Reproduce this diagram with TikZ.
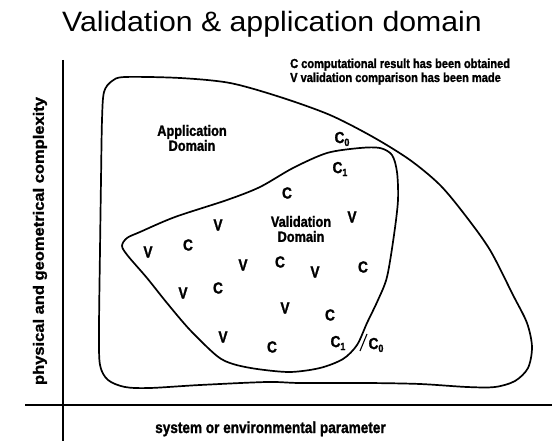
\documentclass[tikz,border=0pt]{standalone}
\usepackage{fontspec}
\setmainfont{Liberation Sans}
\newfontfamily\titlefont[FakeStretch=1.08]{Liberation Sans}
\newfontfamily\labfont[FakeStretch=0.85, BoldFeatures={FakeBold=1.4}]{Liberation Sans}
\newfontfamily\ylabfont[FakeStretch=1.1, BoldFeatures={FakeBold=1.4}]{Liberation Sans}
\newcommand\lowidx[1]{\raisebox{-0.35ex}{\fontsize{10.5}{10.5}\selectfont #1}}
\tikzset{
  domain line/.style={line width=1.7pt, line join=round},
  axis line/.style={line width=1.5pt},
  mark letter/.style={font=\labfont\bfseries\fontsize{16}{16}\selectfont, inner sep=0pt},
  region label/.style={font=\labfont\bfseries\fontsize{15}{15}\selectfont, inner sep=0pt, align=center},
  legend text/.style={font=\labfont\bfseries\fontsize{13}{13}\selectfont, inner sep=0pt, anchor=base west},
}
\begin{document}
\begin{tikzpicture}[x=1pt, y=-1pt]
  \fill[white] (0,0) rectangle (552,441);
  \useasboundingbox (0,0) rectangle (552,441);

  % title
  \node[font=\titlefont\fontsize{28}{28}\selectfont, anchor=base, inner sep=0pt] (title) at (272,32) {Validation \& application domain};

  % legend
  \node[legend text] (legC) at (290,68) {C computational result has been obtained};
  \node[legend text] (legV) at (290,82) {V validation comparison has been made};

  % axes
  \coordinate (yaxTop) at (63,60);
  \coordinate (yaxBot) at (63,441);
  \coordinate (xaxL) at (25,405);
  \coordinate (xaxR) at (552,405);
  \draw[axis line] (yaxTop) -- (yaxBot);
  \draw[axis line] (xaxL) -- (xaxR);

  \node[font=\ylabfont\bfseries\fontsize{15}{15}\selectfont, rotate=90, inner sep=0pt] (ylab) at (40,241) {physical and geometrical complexity};
  \node[font=\labfont\bfseries\fontsize{16}{16}\selectfont, anchor=base west, inner sep=0pt] (xlab) at (155,433) {system or environmental parameter};

  % application domain boundary (C0)
  \draw[domain line] plot[smooth cycle, tension=0.5] coordinates {
    (102,120) (104,92) (112,81) (125,77) (180,78) (230,83) (280,97)
    (330,115) (373,137) (410,160) (440,185) (465,215) (490,250)
    (513,295) (527,323) (532,347) (528,368) (515,381) (495,387)
    (467,387) (420,384) (367,383) (300,383) (267,382) (200,385)
    (150,388) (125,387) (108,380) (100,365) (99,330) (100,250) (101,180)};

  % validation domain boundary (C1)
  \draw[domain line] plot[smooth cycle, tension=0.5] coordinates {
    (360,148) (380,148) (392,155) (397,172) (398,200) (394,235)
    (387,277) (378,300) (367,323) (357,345) (343,359) (320,368)
    (290,372) (257,369) (233,364) (217,356) (190,330) (167,303)
    (147,278) (128,256) (122,246) (127,238) (140,232) (175,217)
    (227,200) (260,187) (293,168) (327,153)};

  % region names
  \node[region label] (appl) at (192,138) {Application\\Domain};
  \node[region label] (valid) at (301,229) {Validation\\Domain};

  % contour marks
  \node[mark letter] (c0a) at (342,139) {C\lowidx{0}};
  \node[mark letter] (c1a) at (340,169) {C\lowidx{1}};
  \node[mark letter] (c1b) at (338,343) {C\lowidx{1}};
  \node[mark letter] (c0b) at (376,345) {C\lowidx{0}};
  \coordinate (slA) at (360,351);
  \coordinate (slB) at (367,334);
  \draw[line width=1.1pt] (slA) -- (slB);

  % computations and validations
  \node[mark letter] (m1) at (287,193) {C};
  \node[mark letter] (m2) at (352,217) {V};
  \node[mark letter] (m3) at (218,225) {V};
  \node[mark letter] (m4) at (188,245) {C};
  \node[mark letter] (m5) at (148,252) {V};
  \node[mark letter] (m6) at (243,265) {V};
  \node[mark letter] (m7) at (280,262) {C};
  \node[mark letter] (m8) at (315,272) {V};
  \node[mark letter] (m9) at (363,267) {C};
  \node[mark letter] (m10) at (218,288) {C};
  \node[mark letter] (m11) at (183,293) {V};
  \node[mark letter] (m12) at (285,308) {V};
  \node[mark letter] (m13) at (330,315) {C};
  \node[mark letter] (m14) at (223,337) {V};
  \node[mark letter] (m15) at (272,347) {C};
\end{tikzpicture}
\end{document}
